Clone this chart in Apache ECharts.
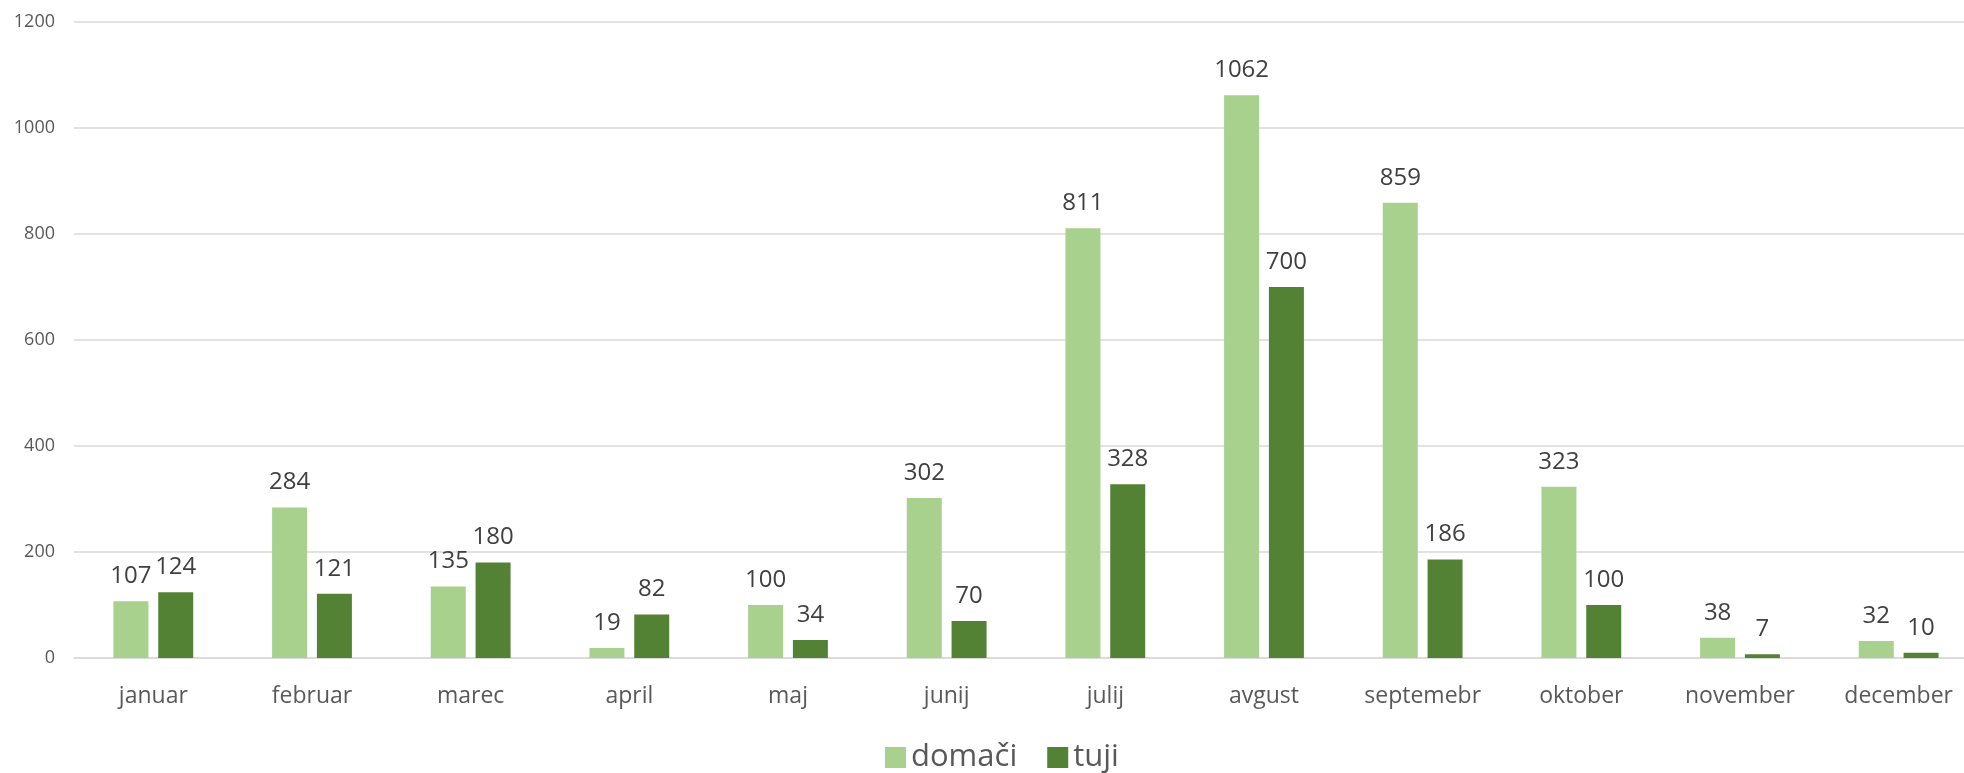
<!DOCTYPE html>
<html>
<head>
<meta charset="utf-8">
<title>domači / tuji</title>
<script src="https://cdn.jsdelivr.net/npm/echarts@6/dist/echarts.min.js"></script>
<style>
    html, body { margin: 0; padding: 0; background: #fff; overflow: hidden; }
    /* plot runs slightly past the right edge, like in the original */
    #main { width: 1978px; height: 773px; }
</style>
</head>
<body>
<div id="main"></div>
<script>
// podatki
var months = ['januar', 'februar', 'marec', 'april', 'maj', 'junij', 'julij', 'avgust', 'septemebr', 'oktober', 'november', 'december'];
var domaci = [107, 284, 135, 19, 100, 302, 811, 1062, 859, 323, 38, 32];
var tuji = [124, 121, 180, 82, 34, 70, 328, 700, 186, 100, 7, 10];
var yTicks = [0, 200, 400, 600, 800, 1000, 1200];

var font = '"Open Sans", "Noto Sans", sans-serif';

function barLabel() {
    return {
        show: true,
        position: 'top',
        distance: 13,
        color: '#404040',
        fontSize: 24,
        fontFamily: font
    };
}

var myChart = echarts.init(document.getElementById('main'));
var option = {
    animation: false,
    color: ['#a9d18e', '#548235'],
    grid: {
        left: 74,
        right: 0,
        top: 22,
        height: 636
    },
    legend: {
        left: 880,
        top: 737,
        itemWidth: 21,
        itemHeight: 21,
        itemGap: 30,
        icon: 'rect',
        textStyle: {
            color: '#595959',
            fontSize: 31,
            fontFamily: font
        },
        data: ['domači', 'tuji']
    },
    xAxis: {
        type: 'category',
        data: months,
        axisTick: { show: false },
        axisLine: {
            lineStyle: { color: '#d9d9d9', width: 1.5 }
        },
        axisLabel: {
            margin: 27,
            color: '#595959',
            fontSize: 23,
            fontFamily: font
        }
    },
    yAxis: {
        type: 'value',
        min: yTicks[0],
        max: yTicks[yTicks.length - 1],
        interval: yTicks[1] - yTicks[0],
        axisLine: { show: false },
        axisTick: { show: false },
        splitLine: {
            lineStyle: { color: '#d9d9d9', width: 1.5 }
        },
        axisLabel: {
            margin: 19,
            color: '#595959',
            fontSize: 18,
            fontFamily: font,
            formatter: function (v) { return String(v); }
        }
    },
    series: [
        {
            name: 'domači',
            type: 'bar',
            barWidth: 35,
            barGap: '28%',
            label: barLabel(),
            data: domaci
        },
        {
            name: 'tuji',
            type: 'bar',
            barWidth: 35,
            barGap: '28%',
            label: barLabel(),
            data: tuji
        }
    ]
};
myChart.setOption(option);
</script>
</body>
</html>
